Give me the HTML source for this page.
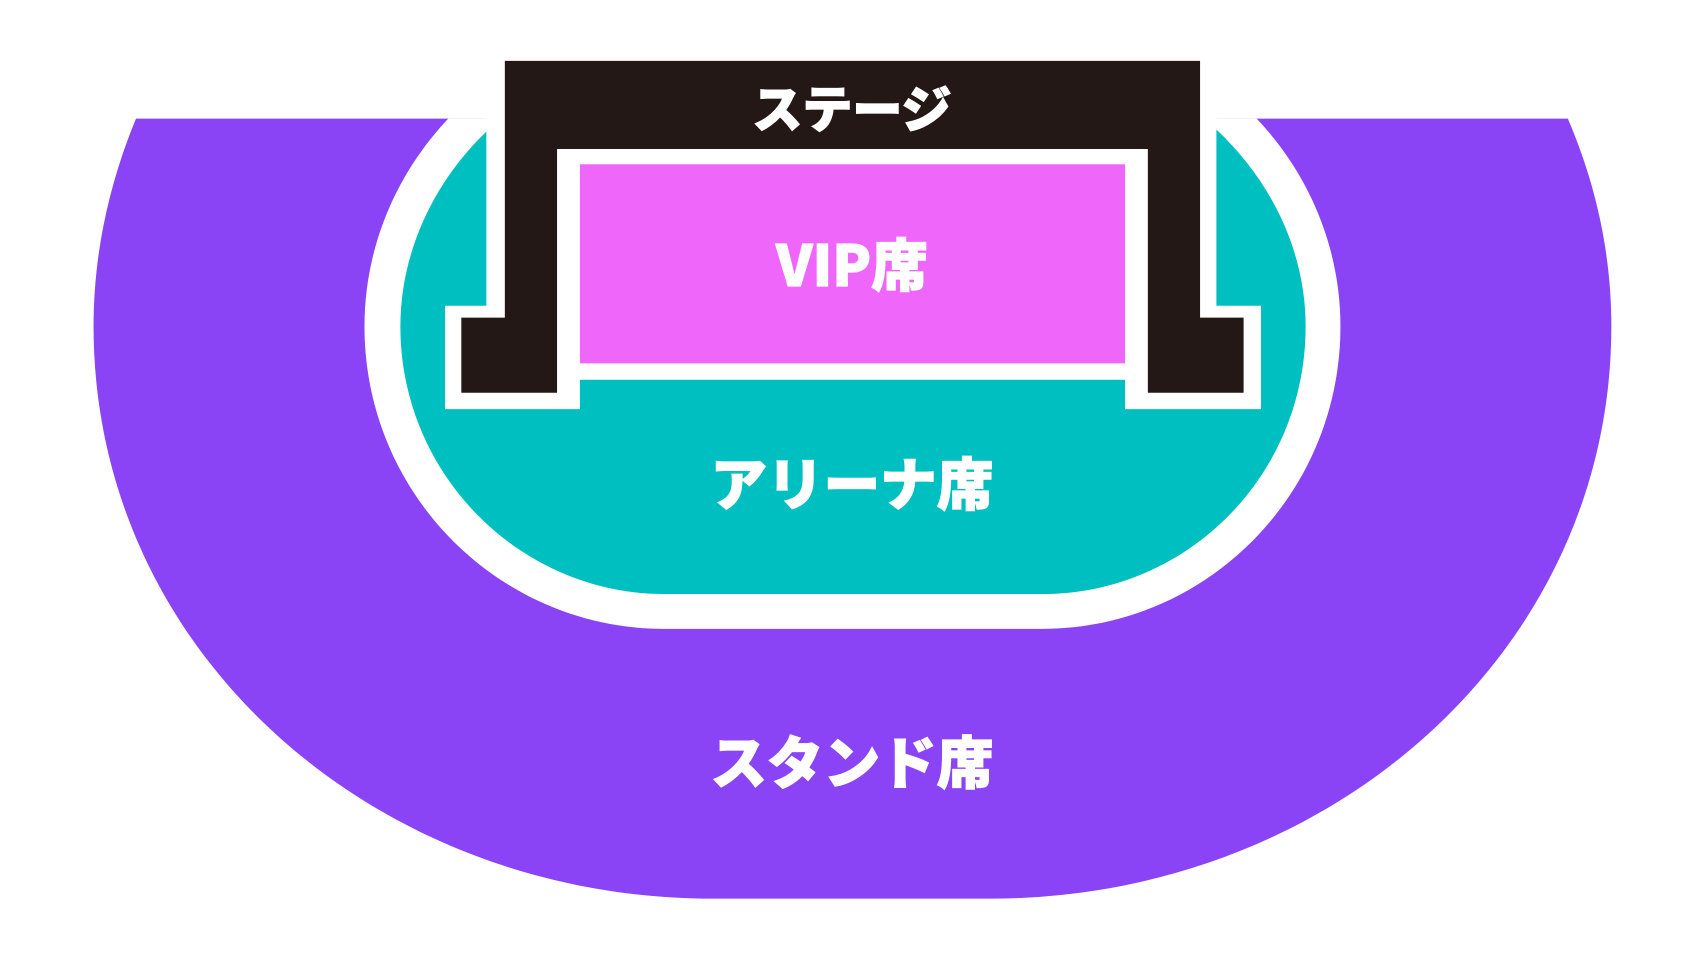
<!DOCTYPE html>
<html><head><meta charset="utf-8"><style>
html,body{margin:0;padding:0;background:#fff;}
svg{display:block;}
text{font-family:"Noto Sans CJK JP","Liberation Sans",sans-serif;font-weight:900;fill:#fff;stroke:#fff;stroke-width:1.2;text-anchor:middle;}
</style></head><body>
<svg width="1706" height="960" viewBox="0 0 1568 882.4" preserveAspectRatio="none" xmlns="http://www.w3.org/2000/svg">
<rect width="1568" height="883" fill="#fff"/>
<path d="M125,109 L1441,109 C1468,172 1481,236 1481,300 C1481,600 1220,826 910,826 L655,826 C345,826 86,600 86,300 C86,236 99,172 125,109 Z" fill="#8a44f5"/>
<path d="M412,109 C362,162 335,230 335,300 C335,455 460,578 610,578 L958,578 C1108,578 1232,455 1232,300 C1232,230 1205,162 1155,109 Z" fill="#fff"/>
<path d="M447,121 C396,170 368,235 368,300 C368,438 480,546 610,546 L958,546 C1090,546 1200,438 1200,300 C1200,235 1172,170 1118,119 Z" fill="#00bfc0"/>
<path d="M447,56 L1118,56 L1118,281 L1159,281 L1159,376 L1034,376 L1034,349 L533,349 L533,376 L409,376 L409,281 L447,281 Z" fill="#fff"/>
<path d="M464,56 L1103,56 L1103,292 L1143,292 L1143,361 L1055,361 L1055,137 L512,137 L512,361 L424,361 L424,292 L464,292 Z" fill="#231815"/>
<rect x="533" y="151" width="501" height="183" fill="#ef66fa"/>
<text x="783" y="117" font-size="46">ステージ</text>
<text x="783" y="263" font-size="52">VIP席</text>
<text x="783" y="464" font-size="52">アリーナ席</text>
<text x="783" y="720" font-size="52">スタンド席</text>
</svg>
</body></html>
